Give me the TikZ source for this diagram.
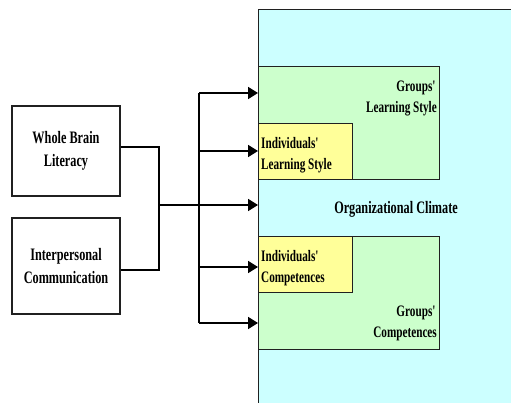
\documentclass[tikz,border=0pt]{standalone}
\usepackage{fontspec}
\setmainfont{Liberation Serif}[FakeStretch=0.7]
\usetikzlibrary{arrows.meta,calc}
\definecolor{climbg}{HTML}{CCFFFF}
\definecolor{groupbg}{HTML}{CCFFCC}
\definecolor{indivbg}{HTML}{FFFF99}
\definecolor{edge}{HTML}{202020}
\newcommand{\q}{\textquotesingle}
\tikzset{
  srcbox/.style={draw=edge, line width=1.4pt, fill=white, inner sep=0pt,
    minimum width=108pt, align=center, font=\bfseries\fontsize{17.5}{23}\selectfont},
  area/.style={draw=edge, line width=1.4pt, inner sep=0pt, anchor=north west},
  lbl/.style={inner sep=0pt, font=\bfseries\fontsize{16}{21}\selectfont},
  conn/.style={line width=1.8pt, black},
  arr/.style={conn, -{Triangle[length=10pt,width=12pt]}}
}
\begin{document}
\begin{tikzpicture}[x=1pt,y=-1pt]
\useasboundingbox (0,0) rectangle (511,403);
% climate area
\node[area, fill=climbg, minimum width=270pt, minimum height=410pt] (clim) at (258,9) {};
% groups / individuals boxes
\node[area, fill=groupbg, minimum width=181pt, minimum height=113pt] (gls) at (258,66) {};
\node[area, fill=indivbg, minimum width=94pt, minimum height=56pt] (ils) at (258,123) {};
\node[area, fill=groupbg, minimum width=181pt, minimum height=113pt] (gco) at (258,236) {};
\node[area, fill=indivbg, minimum width=94pt, minimum height=56pt] (ico) at (258,236) {};
% labels
\node[lbl, align=right, anchor=north east] (tgls) at (437,81) {Groups\q\\Learning Style};
\node[lbl, align=left, anchor=north west] (tils) at (261,137) {Individuals\q\\Learning Style};
\node[lbl, align=left, anchor=north west] (tico) at (261,250) {Individuals\q\\Competences};
\node[lbl, align=right, anchor=north east] (tgco) at (437,306) {Groups\q\\Competences};
\node[inner sep=0pt, font=\bfseries\fontsize{17.5}{23}\selectfont, anchor=base] (tclim) at (396,214) {Organizational Climate};
% source boxes
\node[srcbox, minimum height=90pt] (wb) at (66,151) {Whole Brain\\Literacy};
\node[srcbox, minimum height=96pt] (ip) at (66,266) {Interpersonal\\Communication};
% junctions
\coordinate (j) at (159,205);
\coordinate (bt) at (199,93);
\coordinate (bb) at (199,323);
\coordinate (b2) at (199,151);
\coordinate (b4) at (199,267);
\draw[conn] ($(wb.east)+(0,-4)$) -| (j);
\draw[conn] ($(ip.east)+(0,4)$) -| (j);
\draw[conn] (bt) -- (bb);
\draw[arr] (j) -- (clim.west |- j);
\draw[arr] (bt) -- (clim.west |- bt);
\draw[arr] (b2) -- (clim.west |- b2);
\draw[arr] (b4) -- (clim.west |- b4);
\draw[arr] (bb) -- (clim.west |- bb);
\end{tikzpicture}
\end{document}
